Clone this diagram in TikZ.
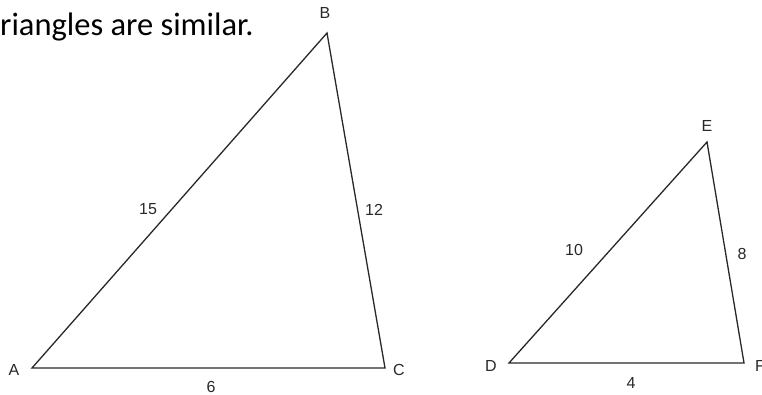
\documentclass[tikz,border=0pt]{standalone}
\usepackage{fontspec}
\setmainfont{Liberation Sans}
\newfontfamily\titlefont{Carlito}
\usepackage{xcolor}
\definecolor{mygray}{RGB}{40,40,40}
\usepackage{tikz}

\begin{document}
\begin{tikzpicture}[x=1pt,y=-1pt,line join=miter]
	\tikzstyle{bian}=[draw=mygray,line width=1.3pt];
	\tikzstyle{zi}=[inner sep=0pt,font=\fontsize{16}{16}\selectfont,text=mygray];
	\useasboundingbox (0,0) rectangle (762,395);
	\node[anchor=west,inner sep=0pt,font=\titlefont\fontsize{32.5}{32}\selectfont] (title) at (0,27) {riangles are similar.};
	% big triangle
	\coordinate (A) at (32,368);
	\coordinate (B) at (327,33);
	\coordinate (C) at (385,368);
	\draw[bian] (A) -- (B) -- (C) -- cycle;
	\node[zi] (la) at (14,370) {A};
	\node[zi] (lb) at (325,13) {B};
	\node[zi] (lc) at (399,370) {C};
	\node[zi] (ab) at (148,209) {15};
	\node[zi] (bc) at (374,210) {12};
	\node[zi] (ac) at (211,387) {6};
	% small triangle
	\coordinate (D) at (509,363);
	\coordinate (E) at (707,142);
	\coordinate (F) at (744,363);
	\draw[bian] (D) -- (E) -- (F) -- cycle;
	\node[zi] (ld) at (491,366) {D};
	\node[zi] (le) at (707,126) {E};
	\node[zi] (lf) at (760,366) {F};
	\node[zi] (de) at (574,250) {10};
	\node[zi] (ef) at (742,254) {8};
	\node[zi] (df) at (631,383) {4};
\end{tikzpicture}
\end{document}
